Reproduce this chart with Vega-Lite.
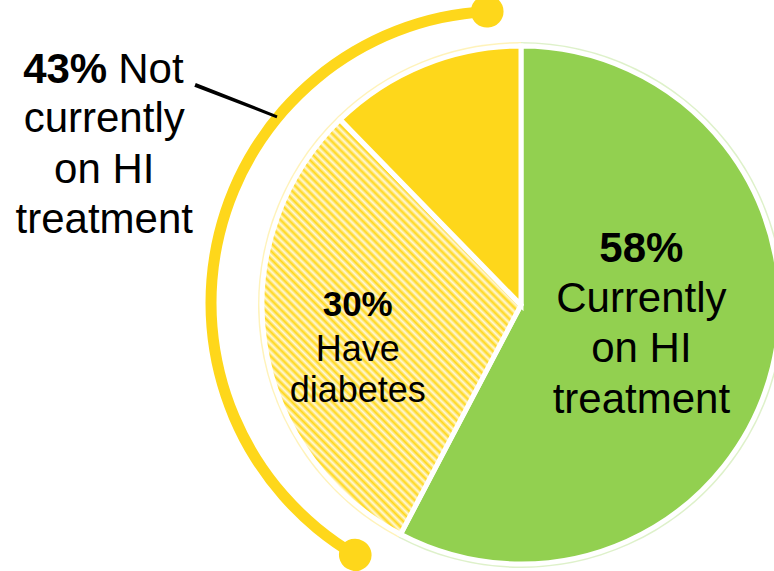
{
  "$schema": "https://vega.github.io/schema/vega-lite/v6.json",
  "width": 506,
  "height": 532,
  "autosize": "none",
  "padding": {"left": 268, "top": 39, "right": 0, "bottom": 0},
  "background": "#FFFFFF",
  "config": {"view": {"stroke": null}, "font": "Liberation Sans"},
  "data": {
    "values": [
      {"segment": "Currently on HI treatment", "group": "Currently on HI treatment", "pct": 57.7, "order": 1, "pctLabel": "58%", "desc": "Currently\non HI\ntreatment"},
      {"segment": "Have diabetes", "group": "Not currently on HI treatment", "pct": 30.0, "order": 2, "pctLabel": "30%", "desc": "Have\ndiabetes"},
      {"segment": "No diabetes", "group": "Not currently on HI treatment", "pct": 12.3, "order": 3, "pctLabel": "", "desc": ""}
    ]
  },
  "resolve": {"scale": {"theta": "independent"}},
  "layer": [
    {
      "encoding": {
        "theta": {"field": "pct", "type": "quantitative", "stack": true, "scale": {"domain": [0, 100]}},
        "order": {"field": "order", "type": "quantitative"}
      },
      "layer": [
        {
          "mark": {"type": "arc", "radius": 263, "opacity": 0.3},
          "encoding": {
            "color": {"field": "segment", "type": "nominal", "legend": null,
              "scale": {"domain": ["Currently on HI treatment", "Have diabetes", "No diabetes"], "range": ["#92D050", "#FED71B", "#FED71B"]}}
          }
        },
        {
          "mark": {"type": "arc", "radius": 259, "stroke": "#FFFFFF", "strokeWidth": 5},
          "encoding": {
            "color": {
              "condition": {"test": "datum.order === 2", "value": {"gradient": "linear", "x1": 0, "y1": 1, "x2": 1, "y2": -0.6, "stops": [
{"offset":0,"color":"#FED71B"},{"offset":0.0044,"color":"#FFF8DA"},{"offset":0.0088,"color":"#FED71B"},{"offset":0.0132,"color":"#FFF8DA"},{"offset":0.0176,"color":"#FED71B"},{"offset":0.022,"color":"#FFF8DA"},{"offset":0.0264,"color":"#FED71B"},{"offset":0.0308,"color":"#FFF8DA"},{"offset":0.0352,"color":"#FED71B"},{"offset":0.0396,"color":"#FFF8DA"},
{"offset":0.044,"color":"#FED71B"},{"offset":0.0484,"color":"#FFF8DA"},{"offset":0.0528,"color":"#FED71B"},{"offset":0.0572,"color":"#FFF8DA"},{"offset":0.0616,"color":"#FED71B"},{"offset":0.066,"color":"#FFF8DA"},{"offset":0.0704,"color":"#FED71B"},{"offset":0.0748,"color":"#FFF8DA"},{"offset":0.0792,"color":"#FED71B"},{"offset":0.0836,"color":"#FFF8DA"},
{"offset":0.088,"color":"#FED71B"},{"offset":0.0924,"color":"#FFF8DA"},{"offset":0.0968,"color":"#FED71B"},{"offset":0.1012,"color":"#FFF8DA"},{"offset":0.1056,"color":"#FED71B"},{"offset":0.11,"color":"#FFF8DA"},{"offset":0.1144,"color":"#FED71B"},{"offset":0.1188,"color":"#FFF8DA"},{"offset":0.1232,"color":"#FED71B"},{"offset":0.1276,"color":"#FFF8DA"},
{"offset":0.132,"color":"#FED71B"},{"offset":0.1364,"color":"#FFF8DA"},{"offset":0.1408,"color":"#FED71B"},{"offset":0.1452,"color":"#FFF8DA"},{"offset":0.1496,"color":"#FED71B"},{"offset":0.154,"color":"#FFF8DA"},{"offset":0.1584,"color":"#FED71B"},{"offset":0.1628,"color":"#FFF8DA"},{"offset":0.1672,"color":"#FED71B"},{"offset":0.1716,"color":"#FFF8DA"},
{"offset":0.176,"color":"#FED71B"},{"offset":0.1804,"color":"#FFF8DA"},{"offset":0.1848,"color":"#FED71B"},{"offset":0.1892,"color":"#FFF8DA"},{"offset":0.1936,"color":"#FED71B"},{"offset":0.198,"color":"#FFF8DA"},{"offset":0.2024,"color":"#FED71B"},{"offset":0.2068,"color":"#FFF8DA"},{"offset":0.2112,"color":"#FED71B"},{"offset":0.2156,"color":"#FFF8DA"},
{"offset":0.22,"color":"#FED71B"},{"offset":0.2244,"color":"#FFF8DA"},{"offset":0.2288,"color":"#FED71B"},{"offset":0.2332,"color":"#FFF8DA"},{"offset":0.2376,"color":"#FED71B"},{"offset":0.242,"color":"#FFF8DA"},{"offset":0.2464,"color":"#FED71B"},{"offset":0.2508,"color":"#FFF8DA"},{"offset":0.2552,"color":"#FED71B"},{"offset":0.2596,"color":"#FFF8DA"},
{"offset":0.264,"color":"#FED71B"},{"offset":0.2684,"color":"#FFF8DA"},{"offset":0.2728,"color":"#FED71B"},{"offset":0.2772,"color":"#FFF8DA"},{"offset":0.2816,"color":"#FED71B"},{"offset":0.286,"color":"#FFF8DA"},{"offset":0.2904,"color":"#FED71B"},{"offset":0.2948,"color":"#FFF8DA"},{"offset":0.2992,"color":"#FED71B"},{"offset":0.3036,"color":"#FFF8DA"},
{"offset":0.308,"color":"#FED71B"},{"offset":0.3124,"color":"#FFF8DA"},{"offset":0.3168,"color":"#FED71B"},{"offset":0.3212,"color":"#FFF8DA"},{"offset":0.3256,"color":"#FED71B"},{"offset":0.33,"color":"#FFF8DA"},{"offset":0.3344,"color":"#FED71B"},{"offset":0.3388,"color":"#FFF8DA"},{"offset":0.3432,"color":"#FED71B"},{"offset":0.3476,"color":"#FFF8DA"},
{"offset":0.352,"color":"#FED71B"},{"offset":0.3564,"color":"#FFF8DA"},{"offset":0.3608,"color":"#FED71B"},{"offset":0.3652,"color":"#FFF8DA"},{"offset":0.3696,"color":"#FED71B"},{"offset":0.374,"color":"#FFF8DA"},{"offset":0.3784,"color":"#FED71B"},{"offset":0.3828,"color":"#FFF8DA"},{"offset":0.3872,"color":"#FED71B"},{"offset":0.3916,"color":"#FFF8DA"},
{"offset":0.396,"color":"#FED71B"},{"offset":0.4004,"color":"#FFF8DA"},{"offset":0.4048,"color":"#FED71B"},{"offset":0.4092,"color":"#FFF8DA"},{"offset":0.4136,"color":"#FED71B"},{"offset":0.418,"color":"#FFF8DA"},{"offset":0.4224,"color":"#FED71B"},{"offset":0.4268,"color":"#FFF8DA"},{"offset":0.4312,"color":"#FED71B"},{"offset":0.4356,"color":"#FFF8DA"},
{"offset":0.44,"color":"#FED71B"},{"offset":0.4444,"color":"#FFF8DA"},{"offset":0.4488,"color":"#FED71B"},{"offset":0.4532,"color":"#FFF8DA"},{"offset":0.4576,"color":"#FED71B"},{"offset":0.462,"color":"#FFF8DA"},{"offset":0.4664,"color":"#FED71B"},{"offset":0.4708,"color":"#FFF8DA"},{"offset":0.4752,"color":"#FED71B"},{"offset":0.4796,"color":"#FFF8DA"},
{"offset":0.484,"color":"#FED71B"},{"offset":0.4884,"color":"#FFF8DA"},{"offset":0.4928,"color":"#FED71B"},{"offset":0.4972,"color":"#FFF8DA"},{"offset":0.5016,"color":"#FED71B"},{"offset":0.506,"color":"#FFF8DA"},{"offset":0.5104,"color":"#FED71B"},{"offset":0.5148,"color":"#FFF8DA"},{"offset":0.5192,"color":"#FED71B"},{"offset":0.5236,"color":"#FFF8DA"},
{"offset":0.528,"color":"#FED71B"},{"offset":0.5324,"color":"#FFF8DA"},{"offset":0.5368,"color":"#FED71B"},{"offset":0.5412,"color":"#FFF8DA"},{"offset":0.5456,"color":"#FED71B"},{"offset":0.55,"color":"#FFF8DA"},{"offset":0.5544,"color":"#FED71B"},{"offset":0.5588,"color":"#FFF8DA"},{"offset":0.5632,"color":"#FED71B"},{"offset":0.5676,"color":"#FFF8DA"},
{"offset":0.572,"color":"#FED71B"},{"offset":0.5764,"color":"#FFF8DA"},{"offset":0.5808,"color":"#FED71B"},{"offset":0.5852,"color":"#FFF8DA"},{"offset":0.5896,"color":"#FED71B"},{"offset":0.594,"color":"#FFF8DA"},{"offset":0.5984,"color":"#FED71B"},{"offset":0.6028,"color":"#FFF8DA"},{"offset":0.6072,"color":"#FED71B"},{"offset":0.6116,"color":"#FFF8DA"},
{"offset":0.616,"color":"#FED71B"},{"offset":0.6204,"color":"#FFF8DA"},{"offset":0.6248,"color":"#FED71B"},{"offset":0.6292,"color":"#FFF8DA"},{"offset":0.6336,"color":"#FED71B"},{"offset":0.638,"color":"#FFF8DA"},{"offset":0.6424,"color":"#FED71B"},{"offset":0.6468,"color":"#FFF8DA"},{"offset":0.6512,"color":"#FED71B"},{"offset":0.6556,"color":"#FFF8DA"},
{"offset":0.66,"color":"#FED71B"},{"offset":0.6644,"color":"#FFF8DA"},{"offset":0.6688,"color":"#FED71B"},{"offset":0.6732,"color":"#FFF8DA"},{"offset":0.6776,"color":"#FED71B"},{"offset":0.682,"color":"#FFF8DA"},{"offset":0.6864,"color":"#FED71B"},{"offset":0.6908,"color":"#FFF8DA"},{"offset":0.6952,"color":"#FED71B"},{"offset":0.6996,"color":"#FFF8DA"},
{"offset":0.704,"color":"#FED71B"},{"offset":0.7084,"color":"#FFF8DA"},{"offset":0.7128,"color":"#FED71B"},{"offset":0.7172,"color":"#FFF8DA"},{"offset":0.7216,"color":"#FED71B"},{"offset":0.726,"color":"#FFF8DA"},{"offset":0.7304,"color":"#FED71B"},{"offset":0.7348,"color":"#FFF8DA"},{"offset":0.7392,"color":"#FED71B"}
              ]}},
              "field": "segment", "type": "nominal", "legend": null,
              "scale": {"domain": ["Currently on HI treatment", "Have diabetes", "No diabetes"], "range": ["#92D050", "#FED71B", "#FED71B"]}
            }
          }
        },
        {
          "mark": {"type": "text", "radius": 124, "dy": -73, "fontSize": 42, "fontWeight": "bold", "baseline": "alphabetic", "align": "center", "color": "#000000"},
          "encoding": {"text": {"condition": {"test": "datum.order === 1", "field": "pctLabel", "type": "nominal"}, "value": ""}}
        },
        {
          "mark": {"type": "text", "radius": 124, "dy": -23, "fontSize": 42, "lineHeight": 50.5, "lineBreak": "\n", "baseline": "alphabetic", "align": "center", "color": "#000000"},
          "encoding": {"text": {"condition": {"test": "datum.order === 1", "field": "desc", "type": "nominal"}, "value": ""}}
        },
        {
          "mark": {"type": "text", "radius": 165, "dy": -13, "fontSize": 35, "fontWeight": "bold", "baseline": "alphabetic", "align": "center", "color": "#000000"},
          "encoding": {"text": {"condition": {"test": "datum.order === 2", "field": "pctLabel", "type": "nominal"}, "value": ""}}
        },
        {
          "mark": {"type": "text", "radius": 165, "dy": 32, "fontSize": 36, "lineHeight": 41, "lineBreak": "\n", "baseline": "alphabetic", "align": "center", "color": "#000000"},
          "encoding": {"text": {"condition": {"test": "datum.order === 2", "field": "desc", "type": "nominal"}, "value": ""}}
        }
      ]
    },
    {
      "transform": [
        {"stack": "pct", "groupby": [], "sort": [{"field": "order", "order": "ascending"}], "as": ["p0", "p1"]},
        {"aggregate": [{"op": "min", "field": "p0", "as": "start"}, {"op": "max", "field": "p1", "as": "end"}], "groupby": ["group"]},
        {"filter": "datum.group === 'Not currently on HI treatment'"}
      ],
      "layer": [
        {
          "mark": {"type": "arc", "radius": 297.5, "radius2": 286.5, "color": "#FED71B", "xOffset": -18, "yOffset": -2},
          "encoding": {
            "theta": {"field": "start", "type": "quantitative", "stack": null, "scale": {"domain": [0, 100], "range": [0.1843, 6.2291]}},
            "theta2": {"field": "end"}
          }
        },
        {
          "transform": [{"fold": ["start", "end"], "as": ["edge", "at"]}],
          "mark": {"type": "arc", "radius": 308, "radius2": 276, "cornerRadius": 16, "thetaOffset": -0.056, "theta2Offset": 0.056, "color": "#FED71B", "xOffset": -18, "yOffset": -2},
          "encoding": {
            "theta": {"field": "at", "type": "quantitative", "stack": null},
            "theta2": {"field": "at"}
          }
        },
        {
          "mark": {"type": "arc", "theta": 5.0784, "theta2": 5.0906, "radius": 330.6, "radius2": 242.6, "color": "#000000", "xOffset": -18, "yOffset": -100},
          "encoding": {}
        },
        {
          "mark": {"type": "text", "text": "43%", "radius": 292, "dx": -398, "dy": 70, "fontSize": 42, "fontWeight": "bold", "align": "right", "baseline": "alphabetic", "color": "#000000"},
          "encoding": {"theta": {"field": "end", "type": "quantitative", "stack": null}}
        },
        {
          "mark": {"type": "text", "text": "Not", "radius": 292, "dx": -387, "dy": 70, "fontSize": 42, "align": "left", "baseline": "alphabetic", "color": "#000000"},
          "encoding": {"theta": {"field": "end", "type": "quantitative", "stack": null}}
        },
        {
          "mark": {"type": "text", "text": ["currently", "on HI", "treatment"], "radius": 292, "dx": -401, "dy": 119, "fontSize": 42, "lineHeight": 50.5, "align": "center", "baseline": "alphabetic", "color": "#000000"},
          "encoding": {"theta": {"field": "end", "type": "quantitative", "stack": null}}
        }
      ]
    }
  ]
}
